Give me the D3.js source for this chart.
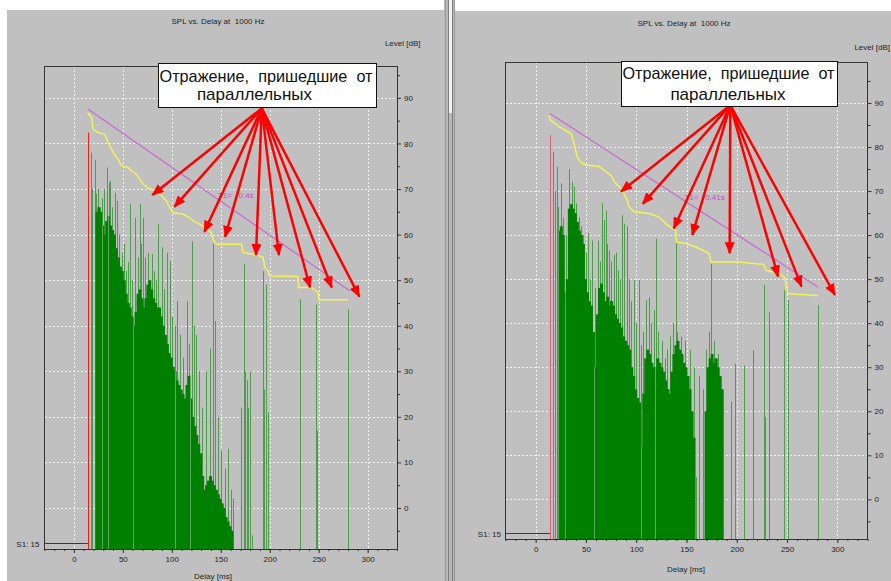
<!DOCTYPE html>
<html>
<head>
<meta charset="utf-8">
<script src="https://cdn.jsdelivr.net/npm/d3@7"></script>
<style>
  body { margin: 0; background: #fff; }
  svg { display: block; font-family: "Liberation Sans", Arial, sans-serif; }
</style>
</head>
<body>
<svg id="chart" width="891" height="581"></svg>
<script>
"use strict";

// axis ticks
const xTickValues = [0, 50, 100, 150, 200, 250, 300];
const yTickValues = [0, 10, 20, 30, 40, 50, 60, 70, 80, 90];
const xDomain = [-30, 330];

const titleText = "SPL vs. Delay at  1000 Hz";
const boxLine1 = "Отражение,  пришедшие  от";
const boxLine2 = "параллельных";

// left panel: [delay ms, level dB]
const leftBody = [
  [22, 65], [24, 66], [26, 65], [28, 62], [30, 60], [32, 63], [34, 64], [36, 62], [38, 61], [40, 60],
  [42, 57], [44, 55], [46, 53], [48, 52], [50, 50], [52, 47], [54, 45], [56, 44], [58, 42], [60, 40],
  [62, 43], [64, 47], [66, 48], [68, 46], [70, 44], [72, 46], [74, 49], [76, 50], [78, 48], [80, 46],
  [82, 45], [84, 44], [86, 44], [88, 42], [90, 40], [92, 38], [94, 36], [96, 34], [98, 33], [100, 31],
  [102, 30], [104, 28], [106, 27], [108, 26], [110, 25], [112, 24], [114, 27], [116, 29], [118, 24], [120, 20],
  [122, 18], [124, 16], [126, 14], [128, 12], [130, 7], [132, 4], [134, 5], [136, 6], [138, 7], [140, 6],
  [142, 5], [144, 4], [146, 3], [148, 2], [150, 1], [152, 0], [154, -2], [156, -3], [158, -4], [160, -5]
];
const leftSpikes = [
  [17.7, 78], [19, 70], [21.1, 76.4], [22.5, 69], [25, 70], [27, 66], [29, 68], [31, 70], [33.7, 74.7],
  [35.4, 71.4], [37.1, 71.8], [39, 66], [42.2, 69.2], [43.9, 67.4], [46, 60], [49, 56], [51, 58], [53, 52],
  [55, 54], [57.5, 66.7], [59, 50], [62.6, 63.7], [65, 55], [67.7, 66.7], [69, 58], [71, 63.7], [73, 55],
  [76, 56], [79.6, 55.7], [82, 52], [84, 50], [86.4, 62.3], [89.8, 57.2], [92, 48], [94.9, 56], [98.3, 54.2],
  [100, 42], [103, 40], [105, 45.4], [108, 38], [111, 33], [115.3, 45.4], [118, 36], [120.4, 58.5], [123, 40],
  [125, 38], [128, 30], [131, 22], [135, 30], [139, 35], [142, 58], [144, 41], [147, 20], [150.7, 12.6],
  [154, 8.6], [157, 13], [160, 4], [163, 2], [171, 22], [173.8, 53.5], [175, 30], [176.5, 28], [178, 22],
  [179.5, 30], [182, -6], [193.2, 52], [194.5, 26], [196.6, 49], [198, 21], [230.6, 45.8], [247.6, 44.7],
  [248.5, 17], [279.9, 43.6]
];
const leftGaps = [20, 28.6, 34.7, 60, 103.4, 118.4];
const leftDecay = [
  [14.0, 86.8], [18.0, 85.7], [19.7, 83.1], [24.8, 82.4], [31.6, 82.0], [35.0, 80.2], [40.1, 78.0],
  [45.2, 76.5], [48.7, 75.1], [55.4, 74.7], [58.9, 74.0], [64.0, 73.2], [70.7, 71.1], [75.8, 70.2],
  [82.7, 69.6], [87.8, 68.9], [94.6, 67.4], [98.0, 65.9], [101.3, 64.8], [111.5, 64.5], [118.4, 63.7],
  [121.7, 63.0], [128.6, 62.3], [135.4, 61.2], [140.5, 60.4], [142.1, 59.0], [145.6, 57.9], [171.1, 57.9],
  [172.8, 56.1], [183.0, 55.7], [189.8, 55.3], [193.2, 55.0], [194.9, 52.8], [198.3, 52.0], [200.0, 50.9],
  [228.9, 50.8], [229.5, 48.4], [242.6, 48.4], [249.3, 47.3], [250.3, 45.7], [279.9, 45.7]
];
const leftFit = [[14.6, 87.5], [281.6, 47.7]];
const leftArrowFrom = [191.9, 87.7];
const leftArrowTips = [
  [80.1, 68.7], [102.6, 66.1], [133.2, 60.6], [154.4, 59.5], [186.0, 55.5],
  [209.5, 55.5], [241.2, 48.4], [263.4, 48.4], [291.6, 46.4]
];

// right panel: [delay ms, level dB]
const rightBody = [
  [22, 61], [24, 62], [26, 60], [28, 47], [30, 50], [32, 66], [34, 67], [36, 66], [38, 65], [40, 63],
  [42, 61], [44, 60], [46, 58], [48, 50], [50, 47], [52, 45], [54, 44], [56, 38], [58, 30], [60, 42],
  [62, 48], [64, 49], [66, 47], [68, 45], [70, 46], [72, 44], [74, 45], [76, 44], [78, 42], [80, 41],
  [82, 40], [84, 39], [86, 37], [88, 36], [90, 35], [92, 34], [94, 30], [96, 28], [98, 25], [100, 23],
  [102, 22], [104, 12], [106, 24], [108, 32], [110, 34], [112, 33], [114, 31], [116, 30], [118, 30], [120, 32],
  [122, 31], [124, 30], [126, 29], [128, 27], [130, 25], [132, 24], [134, 29], [136, 33], [138, 35], [140, 36],
  [142, 34], [144, 33], [146, 31], [148, 30], [150, 28], [152, 25], [154, 20], [156, 14],
  [168, 20], [170, 30], [172, 32], [174, 33], [176, 31], [178, 32], [180, 30], [182, 28], [184, 25]
];
const rightSpikes = [
  [17.5, 78.9], [19, 70], [20.9, 75.5], [22.3, 66.4], [24.9, 71.7], [27, 64], [30, 60], [33.1, 75],
  [36.5, 72.1], [38, 71], [40, 67.2], [43, 64], [45, 62], [47, 60], [50, 56], [52, 60.4], [54, 50],
  [56.5, 58.8], [59, 48], [61.9, 58.8], [64, 54], [66.4, 67.2], [68, 63.4], [69.7, 65.5], [71, 58],
  [73, 56.5], [75, 54], [78, 55.5], [80, 56], [82, 52], [84, 50], [86.3, 64.5], [88, 62.6], [91, 62],
  [93, 50], [95, 45], [97.9, 49.8], [100, 40], [102.9, 49.8], [105, 35], [107, 38], [109.5, 45.2],
  [112.9, 45.9], [115, 40], [118, 43], [119.5, 59.2], [122, 38], [126, 36], [129, 32], [131, 34], [134, 37],
  [137, 40], [139.4, 60], [141, 38], [145, 37], [149, 36], [153, 34], [157, 30], [159.5, 5], [162, 28],
  [166, 25], [169, 34], [172, 38], [174.3, 53.5], [177, 36], [181, 33], [194.2, 22.2], [198.5, 30.8],
  [207.5, 30.4], [215.8, 33.8], [227.4, 48.7], [228.5, 18.7], [232.4, 42.5], [247.3, 47.5], [250.6, 45.2],
  [280.5, 44.1]
];
const rightGaps = [20, 22.5, 29.5, 58, 105, 119];
const rightDecay = [
  [13.2, 87.2], [14.9, 86.1], [23.2, 84.6], [34.9, 83.1], [36.5, 82.3], [38.1, 80.8], [41.4, 77.7],
  [44.8, 76.6], [49.8, 75.9], [63.0, 75.6], [68.0, 74.7], [74.7, 73.6], [79.7, 71.7], [84.7, 70.6],
  [87.9, 69.4], [91.2, 67.9], [92.9, 66.4], [97.9, 65.3], [112.8, 64.9], [122.8, 64.1], [129.5, 62.6],
  [136.1, 61.5], [139.4, 61.1], [140.0, 58.4], [149.4, 58.1], [159.4, 57.3], [172.6, 55.8], [174.3, 53.9],
  [202.5, 53.9], [219.1, 53.5], [226.4, 53.4], [229.1, 52.0], [235.7, 51.6], [242.3, 51.3], [247.3, 50.5],
  [249.0, 49.0], [250.6, 46.7], [280.5, 46.3]
];
const rightFit = [[14.2, 87.6], [280.6, 48.2]];
const rightArrowFrom = [193.6, 89.5];
const rightArrowTips = [
  [84.9, 69.9], [106.4, 67.1], [137.3, 61.5], [155.7, 60.0], [192.9, 55.9],
  [241.0, 50.6], [264.4, 48.3], [297.6, 46.4]
];

const panels = [
  {
    left: 44.5, right: 397, top: 66, bottom: 549, yDomain: [-9, 97],
    bgX: 7, bgY: 10, bgW: 437,
    titleX: 218, titleY: 24, levelX: 402.7, levelY: 45.5, levelAnchor: "middle",
    delayX: 213, delayY: 579, s1X: 39.5, s1Y: 546.5,
    s1Delay: 14.3, s1Level: -7.7, directTop: 82.4, directColor: "#ff1818",
    box: { x: 158.5, y: 63.5, w: 217.5, h: 44 },
    line1: { x: 159.5, y: 81.5, len: 213 }, line2: { x: 254.5, y: 99.5 },
    t1: "T1=   0.4s", t1Pos: [147, 68.7],
    body: leftBody, spikes: leftSpikes, gaps: leftGaps, decay: leftDecay, fit: leftFit,
    from: leftArrowFrom, tips: leftArrowTips
  },
  {
    left: 505.5, right: 867.5, top: 62, bottom: 539, yDomain: [-9, 99.3],
    bgX: 455, bgY: 11, bgW: 436,
    titleX: 684, titleY: 26, levelX: 890, levelY: 50, levelAnchor: "end",
    delayX: 686, delayY: 571.5, s1X: 501, s1Y: 537,
    s1Delay: 14.2, s1Level: -7.7, directTop: 82.7, directColor: "#e0607a",
    box: { x: 621.5, y: 61.5, w: 215.5, h: 44.5 },
    line1: { x: 622.5, y: 79, len: 212 }, line2: { x: 728, y: 100 },
    t1: "T1=   0.41s", t1Pos: [148, 68.7],
    body: rightBody, spikes: rightSpikes, gaps: rightGaps, decay: rightDecay, fit: rightFit,
    from: rightArrowFrom, tips: rightArrowTips
  }
];

const svg = d3.select("#chart");

svg.append("defs").append("marker")
  .attr("id", "arrowHead")
  .attr("viewBox", "0 0 12 10")
  .attr("refX", 11)
  .attr("refY", 5)
  .attr("markerWidth", 12)
  .attr("markerHeight", 10)
  .attr("markerUnits", "userSpaceOnUse")
  .attr("orient", "auto")
  .append("path")
  .attr("d", "M0,0 L12,5 L0,10 z")
  .attr("fill", "#ff0000");

function drawPanel(p) {
  const x = d3.scaleLinear().domain(xDomain).range([p.left, p.right]);
  const y = d3.scaleLinear().domain(p.yDomain).range([p.bottom, p.top]);
  const g = svg.append("g");

  g.append("rect")
    .attr("x", p.bgX).attr("y", p.bgY)
    .attr("width", p.bgW).attr("height", 581 - p.bgY)
    .attr("fill", "#c0c0c0");

  // dashed grid
  const grid = g.append("g")
    .attr("stroke", "#f2f2f2")
    .attr("stroke-dasharray", "2,2")
    .attr("shape-rendering", "crispEdges");
  grid.selectAll(".gx").data(xTickValues).join("line")
    .attr("class", "gx")
    .attr("x1", d => Math.round(x(d)) + 0.5).attr("x2", d => Math.round(x(d)) + 0.5)
    .attr("y1", p.top).attr("y2", p.bottom);
  grid.selectAll(".gy").data(yTickValues).join("line")
    .attr("class", "gy")
    .attr("x1", p.left).attr("x2", p.right)
    .attr("y1", d => Math.round(y(d)) + 0.5).attr("y2", d => Math.round(y(d)) + 0.5);

  // thin single reflections first, the dense part goes over them
  g.append("g")
    .attr("stroke", "#4f9c4f")
    .selectAll("line").data(p.spikes).join("line")
    .attr("x1", d => Math.round(x(d[0])) + 0.5).attr("x2", d => Math.round(x(d[0])) + 0.5)
    .attr("y1", d => y(d[1])).attr("y2", p.bottom);

  g.append("g")
    .attr("fill", "#008000")
    .selectAll("rect").data(p.body).join("rect")
    .attr("x", d => x(d[0]))
    .attr("width", d => x(d[0] + 2) - x(d[0]) + 1)
    .attr("y", d => y(d[1]))
    .attr("height", d => p.bottom - y(d[1]));

  const bodyAt = ms => {
    const b = p.body.find(d => ms >= d[0] && ms < d[0] + 2);
    return b ? b[1] : p.yDomain[0];
  };
  g.append("g")
    .attr("stroke", "#5fa65f")
    .selectAll("line").data(p.gaps).join("line")
    .attr("x1", d => Math.round(x(d)) + 0.5).attr("x2", d => Math.round(x(d)) + 0.5)
    .attr("y1", d => y(bodyAt(d))).attr("y2", p.bottom);

  // direct sound
  g.append("line")
    .attr("x1", Math.round(x(p.s1Delay)) + 0.5).attr("x2", Math.round(x(p.s1Delay)) + 0.5)
    .attr("y1", y(p.directTop)).attr("y2", p.bottom)
    .attr("stroke", p.directColor);
  g.append("line")
    .attr("x1", p.left).attr("x2", x(p.s1Delay))
    .attr("y1", Math.round(y(p.s1Level)) + 0.5).attr("y2", Math.round(y(p.s1Level)) + 0.5)
    .attr("stroke", "#3a3a3a");

  const line = d3.line().x(d => x(d[0])).y(d => y(d[1]));
  g.append("path").datum(p.decay)
    .attr("d", line)
    .attr("fill", "none")
    .attr("stroke", "#f2f25a")
    .attr("stroke-width", 1.5);
  g.append("path").datum(p.fit)
    .attr("d", line)
    .attr("fill", "none")
    .attr("stroke", "#c86ad0")
    .attr("stroke-width", 1.2);
  g.append("text")
    .attr("x", x(p.t1Pos[0])).attr("y", y(p.t1Pos[1]))
    .attr("dy", "0.35em")
    .attr("fill", "#cc44cc")
    .attr("font-size", 8)
    .style("white-space", "pre")
    .text(p.t1);

  // frame
  g.append("rect")
    .attr("x", p.left).attr("y", p.top)
    .attr("width", p.right - p.left).attr("height", p.bottom - p.top)
    .attr("fill", "none")
    .attr("stroke", "#333")
    .attr("shape-rendering", "crispEdges");

  // axes
  const styleAxis = a => {
    a.select(".domain").remove();
    a.selectAll(".tick line").attr("stroke", "#333");
    a.selectAll("text").attr("fill", "#1e1e1e").attr("font-size", 8)
      .attr("font-family", "Liberation Sans, Arial, sans-serif");
  };
  g.append("g")
    .attr("transform", `translate(${p.right},0)`)
    .call(d3.axisRight(y).tickValues(d3.range(-5, 96, 10)).tickSize(3).tickFormat(""))
    .call(styleAxis);
  g.append("g")
    .attr("transform", `translate(${p.right},0)`)
    .call(d3.axisRight(y).tickValues(yTickValues).tickSize(4).tickPadding(3))
    .call(styleAxis);
  g.append("g")
    .attr("transform", `translate(0,${p.bottom})`)
    .call(d3.axisBottom(x).tickValues(d3.range(-30, 331, 10)).tickSize(2).tickFormat(""))
    .call(styleAxis);
  g.append("g")
    .attr("transform", `translate(0,${p.bottom})`)
    .call(d3.axisBottom(x).tickValues(xTickValues).tickSize(4).tickPadding(3))
    .call(styleAxis);

  // texts
  const small = sel => sel.attr("fill", "#1e1e1e").attr("font-size", 8);
  g.append("text").attr("x", p.titleX).attr("y", p.titleY)
    .attr("text-anchor", "middle").style("white-space", "pre").call(small).text(titleText);
  g.append("text").attr("x", p.levelX).attr("y", p.levelY)
    .attr("text-anchor", p.levelAnchor).call(small).text("Level [dB]");
  g.append("text").attr("x", p.delayX).attr("y", p.delayY)
    .attr("text-anchor", "middle").call(small).text("Delay [ms]");
  g.append("text").attr("x", p.s1X).attr("y", p.s1Y)
    .attr("text-anchor", "end").call(small).text("S1: 15");

  // annotation arrows
  g.append("g")
    .attr("stroke", "#ff0000")
    .attr("stroke-width", 2.5)
    .selectAll("line").data(p.tips).join("line")
    .attr("x1", x(p.from[0])).attr("y1", y(p.from[1]))
    .attr("x2", d => x(d[0])).attr("y2", d => y(d[1]))
    .attr("marker-end", "url(#arrowHead)");

  g.append("rect")
    .attr("x", p.box.x).attr("y", p.box.y)
    .attr("width", p.box.w).attr("height", p.box.h)
    .attr("fill", "#fff")
    .attr("stroke", "#111")
    .attr("shape-rendering", "crispEdges");
  g.append("text")
    .attr("x", p.line1.x).attr("y", p.line1.y)
    .attr("font-size", 17)
    .attr("fill", "#111")
    .attr("textLength", p.line1.len)
    .attr("lengthAdjust", "spacingAndGlyphs")
    .style("white-space", "pre")
    .text(boxLine1);
  g.append("text")
    .attr("x", p.line2.x).attr("y", p.line2.y)
    .attr("text-anchor", "middle")
    .attr("font-size", 17)
    .attr("fill", "#111")
    .text(boxLine2);
}

panels.forEach(drawPanel);

// splitter between the two views
const split = svg.append("g").attr("shape-rendering", "crispEdges");
split.append("rect").attr("x", 444).attr("y", 0).attr("width", 11).attr("height", 581).attr("fill", "#b8b8b8");
split.append("rect").attr("x", 449).attr("y", 0).attr("width", 3).attr("height", 113).attr("fill", "#f2f2f2");
[445, 448, 452, 454].forEach(xx => {
  split.append("line").attr("x1", xx + 0.5).attr("x2", xx + 0.5).attr("y1", 0).attr("y2", 581)
    .attr("stroke", xx === 448 || xx === 452 ? "#7c7c7c" : "#999");
});
</script>
</body>
</html>
